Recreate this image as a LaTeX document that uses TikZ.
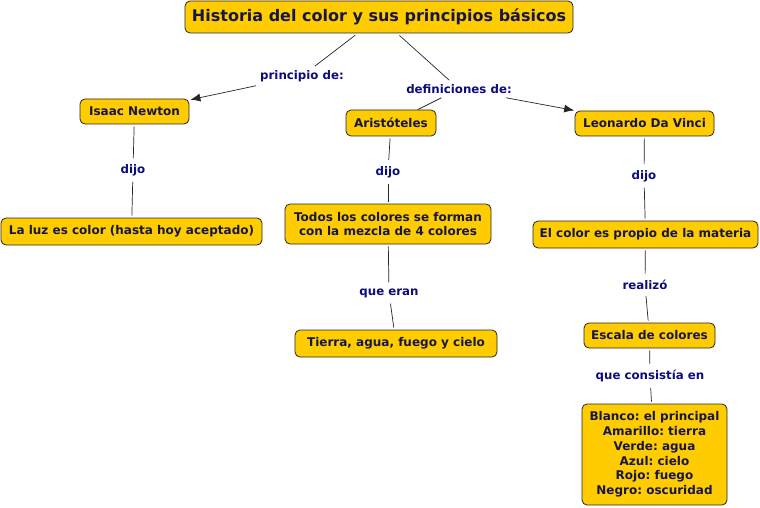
\documentclass[tikz,border=0pt]{standalone}
\usepackage{fontspec}
\setmainfont{DejaVu Sans}
\usetikzlibrary{arrows.meta}
\definecolor{cmapyellow}{RGB}{255,204,0}
\definecolor{conceptblue}{RGB}{22,22,72}
\definecolor{linkblue}{RGB}{12,12,125}
\frenchspacing
\begin{document}
\begin{tikzpicture}[x=1pt,y=-1pt,
  concept/.style={draw=black!85, fill=cmapyellow, rounded corners=5pt, line width=0.8pt,
    text=conceptblue, font=\bfseries\fontsize{12}{14.8}\selectfont, align=center, inner sep=0pt},
  linklab/.style={text=linkblue, font=\bfseries\fontsize{11.8}{13}\selectfont, inner sep=4pt},
  conn/.style={draw=black!85, line width=0.7pt},
  arr/.style={conn, -{Latex[length=10pt,width=8pt]}}]
\useasboundingbox (0,0) rectangle (760,508);
\fill[white] (0,0) rectangle (760,508);

\node[concept, minimum width=388pt, minimum height=32pt, font=\bfseries\fontsize{16}{18}\selectfont] (title) at (379,17) {Historia del color y sus principios básicos};
\node[concept, minimum width=109pt, minimum height=25pt] (newton) at (134.5,111.5) {Isaac Newton};
\node[concept, minimum width=90pt, minimum height=26pt] (arist) at (391,123) {Aristóteles};
\node[concept, minimum width=139pt, minimum height=25pt] (leo) at (644.5,123.5) {Leonardo Da Vinci};
\node[concept, minimum width=261pt, minimum height=27pt] (luz) at (131.5,231.5) {La luz es color (hasta hoy aceptado)};
\node[concept, minimum width=206pt, minimum height=40pt] (todos) at (388,224) {Todos los colores se forman\\ con la mezcla de 4 colores};
\node[concept, minimum width=225pt, minimum height=27pt] (elcolor) at (645.5,234.5) {El color es propio de la materia};
\node[concept, minimum width=202pt, minimum height=27pt] (tierra) at (396,343.5) {Tierra, agua, fuego y cielo};
\node[concept, minimum width=131pt, minimum height=25pt] (escala) at (649.5,335.5) {Escala de colores};
\node[concept, minimum width=145pt, minimum height=101pt] (blanco) at (654.5,454.5) {Blanco: el principal\\ Amarillo: tierra\\ Verde: agua\\ Azul: cielo\\ Rojo: fuego\\ Negro: oscuridad};

\node[linklab] (l1) at (302,76) {principio de:};
\node[linklab] (l2) at (459,89) {definiciones de:};
\node[linklab] (l3) at (133,170) {dijo};
\node[linklab] (l4) at (388,172) {dijo};
\node[linklab] (l5) at (644,176) {dijo};
\node[linklab] (l6) at (389,293) {que eran};
\node[linklab] (l7) at (645,285) {realizó};
\node[linklab] (l8) at (650,376) {que consistía en};

\draw[conn, shorten <=3pt] (title) -- (l1);
\draw[arr, shorten >=1pt] (l1) -- (newton);
\draw[conn, shorten <=3pt] (title) -- (l2);
\draw[conn] (l2) -- (arist);
\draw[arr, shorten >=1pt] (l2) -- (leo);
\draw[conn, shorten <=2pt, shorten >=2pt] (newton) -- (l3);
\draw[conn, shorten <=2pt, shorten >=2pt] (l3) -- (luz);
\draw[conn, shorten <=2pt, shorten >=2pt] (arist) -- (l4);
\draw[conn, shorten <=2pt, shorten >=2pt] (l4) -- (todos);
\draw[conn, shorten <=2pt, shorten >=2pt] (leo) -- (l5);
\draw[conn, shorten <=2pt, shorten >=2pt] (l5) -- (elcolor);
\draw[conn, shorten <=2pt, shorten >=2pt] (todos) -- (l6);
\draw[conn, shorten <=2pt, shorten >=2pt] (l6) -- (tierra);
\draw[conn, shorten <=2pt, shorten >=2pt] (elcolor) -- (l7);
\draw[conn, shorten <=2pt, shorten >=2pt] (l7) -- (escala);
\draw[conn, shorten <=2pt, shorten >=2pt] (escala) -- (l8);
\draw[conn, shorten <=2pt, shorten >=2pt] (l8) -- (blanco);
\end{tikzpicture}
\end{document}
